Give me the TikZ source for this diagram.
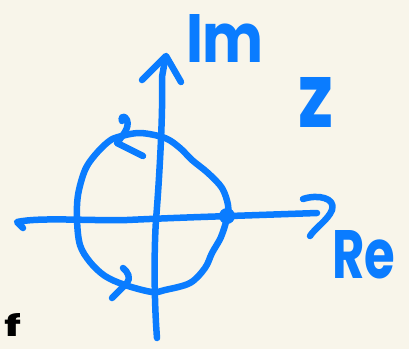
\documentclass[tikz,border=0pt]{standalone}
\usepackage{fontspec}
\setmainfont{Poppins}
\usepackage{graphicx}
\definecolor{paper}{HTML}{F8F5EA}
\definecolor{ink}{HTML}{0A7CFF}
\begin{document}
\begin{tikzpicture}[x=1pt,y=-1pt,
  pen/.style={draw=ink,line width=6.5pt,line cap=round,line join=round},
  lbl/.style={inner sep=0pt,outer sep=0pt,text=ink,anchor=north west,font=\bfseries}]
\fill[paper] (0,0) rectangle (409,349);
\useasboundingbox (0,0) rectangle (409,349);
% horizontal axis
\draw[pen] (23,228) -- (17,222) .. controls (40,217) and (90,221) .. (127,220)
  .. controls (170,218) and (200,217) .. (230,216) -- (317,213);
% Re arrowhead
\draw[pen] (303,199) .. controls (318,194) and (336,198) .. (332,210)
  .. controls (328,220) and (315,228) .. (310,236);
% vertical axis
\draw[pen] (157,338) .. controls (154,300) and (154,250) .. (156,220)
  .. controls (160,170) and (163,110) .. (162,77) -- (165,60);
% Im arrowhead
\draw[pen] (142,80) -- (166,56) -- (181,82);
% circle
\draw[pen] plot[smooth cycle, tension=0.55] coordinates {
 (118,137) (140,133) (165,138) (180,148) (192,160) (208,173) (222,188) (228,205)
 (227,218) (221,237) (212,253) (205,268) (190,283) (165,290) (152,292) (125,285)
 (105,276) (90,262) (80,245) (77,220) (78,195) (85,170) (95,155) (108,142)};
% top direction arrow
\draw[pen] (143,156) -- (117,143) .. controls (122,136) and (130,128) .. (127,120)
  .. controls (125,115) and (120,116) .. (122,121);
% bottom direction arrow
\draw[pen] (123,268) .. controls (128,272) and (131,278) .. (127,283) -- (112,298);
% point on the circle
\fill[ink] (227,216) circle (8pt);
% labels
\node[lbl] (im) at (186,14) {\resizebox{78pt}{48pt}{Im}};
\node[lbl] (z) at (298,77) {\resizebox{35pt}{50pt}{z}};
\node[lbl] (re) at (332,230) {\resizebox{63pt}{48pt}{Re}};
\node[lbl,text=black] (f) at (4,313) {\resizebox{17pt}{23pt}{f}};
\end{tikzpicture}
\end{document}
